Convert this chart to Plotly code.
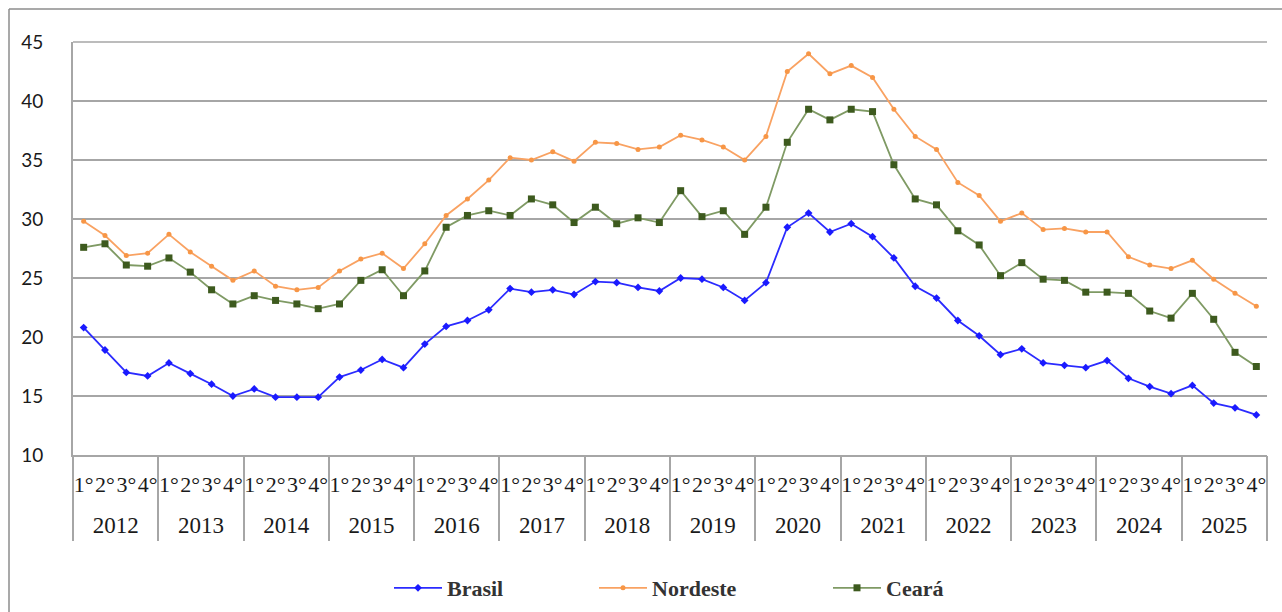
import plotly.graph_objects as go

years = [str(y) for y in range(2012, 2026)]
quarters = ["1°", "2°", "3°", "4°"]

brasil = [20.8, 18.9, 17.0, 16.7, 17.8, 16.9, 16.0, 15.0, 15.6, 14.9, 14.9, 14.9,
          16.6, 17.2, 18.1, 17.4, 19.4, 20.9, 21.4, 22.3, 24.1, 23.8, 24.0, 23.6,
          24.7, 24.6, 24.2, 23.9, 25.0, 24.9, 24.2, 23.1, 24.6, 29.3, 30.5, 28.9,
          29.6, 28.5, 26.7, 24.3, 23.3, 21.4, 20.1, 18.5, 19.0, 17.8, 17.6, 17.4,
          18.0, 16.5, 15.8, 15.2, 15.9, 14.4, 14.0, 13.4]
nordeste = [29.8, 28.6, 26.9, 27.1, 28.7, 27.2, 26.0, 24.8, 25.6, 24.3, 24.0, 24.2,
            25.6, 26.6, 27.1, 25.8, 27.9, 30.3, 31.7, 33.3, 35.2, 35.0, 35.7, 34.9,
            36.5, 36.4, 35.9, 36.1, 37.1, 36.7, 36.1, 35.0, 37.0, 42.5, 44.0, 42.3,
            43.0, 42.0, 39.3, 37.0, 35.9, 33.1, 32.0, 29.8, 30.5, 29.1, 29.2, 28.9,
            28.9, 26.8, 26.1, 25.8, 26.5, 24.9, 23.7, 22.6]
ceara = [27.6, 27.9, 26.1, 26.0, 26.7, 25.5, 24.0, 22.8, 23.5, 23.1, 22.8, 22.4,
         22.8, 24.8, 25.7, 23.5, 25.6, 29.3, 30.3, 30.7, 30.3, 31.7, 31.2, 29.7,
         31.0, 29.6, 30.1, 29.7, 32.4, 30.2, 30.7, 28.7, 31.0, 36.5, 39.3, 38.4,
         39.3, 39.1, 34.6, 31.7, 31.2, 29.0, 27.8, 25.2, 26.3, 24.9, 24.8, 23.8,
         23.8, 23.7, 22.2, 21.6, 23.7, 21.5, 18.7, 17.5]

y_ticks = [10, 15, 20, 25, 30, 35, 40, 45]

nq = len(quarters)
n = len(years) * nq
x_idx = list(range(n))
q_text = [q for _ in years for q in quarters]

fig = go.Figure()
fig.add_trace(go.Scatter(
    x=x_idx, y=brasil, name="Brasil", mode="lines+markers",
    line=dict(color="#2b2bff", width=1.8),
    marker=dict(symbol="diamond", size=6, color="#1a1aff"),
    legend="legend"))
fig.add_trace(go.Scatter(
    x=x_idx, y=nordeste, name="Nordeste", mode="lines+markers",
    line=dict(color="#f9a262", width=1.8),
    marker=dict(symbol="circle", size=5, color="#f79646"),
    legend="legend2"))
fig.add_trace(go.Scatter(
    x=x_idx, y=ceara, name="Ceará", mode="lines+markers",
    line=dict(color="#7f9a64", width=1.8),
    marker=dict(symbol="square", size=7, color="#3d5a1e"),
    legend="legend3"))
# year axis (category axis carrying the year labels and dividers)
fig.add_trace(go.Scatter(
    x=years, y=[None] * len(years), xaxis="x2", yaxis="y",
    mode="markers", showlegend=False, hoverinfo="skip"))

L, R, T, B = 73, 15, 42, 157
W, H = 1282, 612
pw, ph = W - L - R, H - T - B

def px(xp):
    return (xp - L) / pw

def py(yp):
    return (H - B - yp) / ph

legfont = dict(family="Liberation Serif", size=22, color="#333333", weight="bold")
legbase = dict(orientation="h", xanchor="left", yanchor="middle", yref="paper",
               font=legfont, bgcolor="rgba(0,0,0,0)", itemwidth=48)

grid = "#a6a6a6"

fig.update_layout(
    width=W, height=H,
    margin=dict(l=L, r=R, t=T, b=B, autoexpand=False),
    paper_bgcolor="white", plot_bgcolor="white",
    showlegend=True,
    legend=dict(legbase, x=px(389), y=py(588)),
    legend2=dict(legbase, x=px(594), y=py(588)),
    legend3=dict(legbase, x=px(828), y=py(588)),
    xaxis=dict(
        range=[-0.5, n - 0.5], automargin=False,
        tickmode="array", tickvals=x_idx, ticktext=q_text,
        tickfont=dict(family="Liberation Serif", size=22, color="#1a1a1a"),
        tickangle=0, ticks="", ticklabelstandoff=9,
        showline=True, linecolor=grid, linewidth=2,
        showgrid=False, zeroline=False,
    ),
    xaxis2=dict(
        type="category", overlaying="x", anchor="y", side="bottom",
        categoryorder="array", categoryarray=years,
        range=[-0.5, len(years) - 0.5], automargin=False,
        tickfont=dict(family="Liberation Serif", size=23, color="#1a1a1a"),
        tickangle=0, tickson="boundaries", ticks="outside", ticklen=85,
        tickcolor=grid, tickwidth=2, ticklabelstandoff=54,
        showline=False, showgrid=False, zeroline=False,
    ),
    yaxis=dict(
        range=[10, 45], tickvals=y_ticks, automargin=False,
        tickfont=dict(family="Lato", size=19, color="#1a1a1a"),
        showgrid=True, gridcolor=grid, gridwidth=1.6,
        showline=True, linecolor=grid, linewidth=2,
        zeroline=False, ticks="", ticklabelstandoff=24,
    ),
    shapes=[
        dict(type="line", xref="paper", yref="paper", x0=px(9), x1=px(W + 5),
             y0=py(9), y1=py(9), line=dict(color="#8c8c8c", width=1.5)),
        dict(type="line", xref="paper", yref="paper", x0=px(9), x1=px(9),
             y0=py(9), y1=py(H + 5), line=dict(color="#8c8c8c", width=1.5)),
        dict(type="line", xref="paper", yref="paper", x0=0, x1=1,
             y0=1, y1=1, line=dict(color=grid, width=1.6)),
    ],
)

fig.write_html("out.html", config={"displayModeBar": False},
               post_script="document.body.style.margin='0px';")
